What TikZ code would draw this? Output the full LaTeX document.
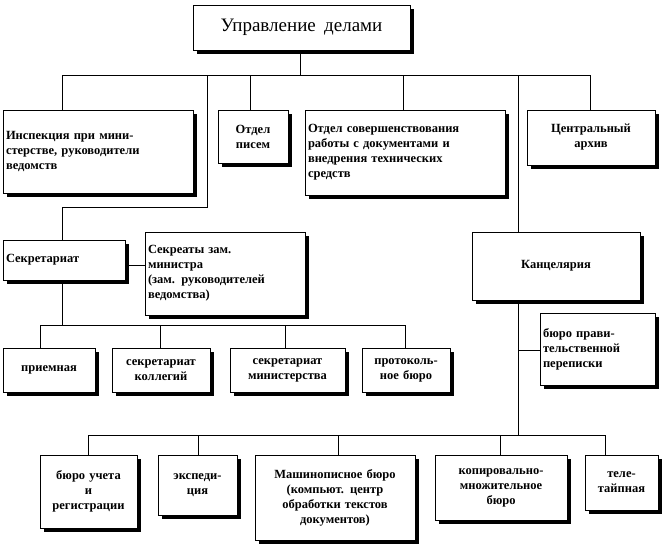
\documentclass[tikz,border=0pt]{standalone}
\usepackage{fontspec}
\setmainfont{Liberation Serif}
\usetikzlibrary{shadows}
\tikzset{
 bx/.style={draw=black,fill=white,line width=0.6pt,inner sep=1pt,font=\bfseries\fontsize{12.5}{15}\selectfont,
   drop shadow={shadow xshift=4pt,shadow yshift=-4pt,fill=black,opacity=1}},
 ln/.style={draw=black,line width=0.6pt}
}
\newcommand{\bx}[7]{%
 \node[bx,minimum width={#4-#2},minimum height={#5-#3},text width={#4-#2-6},align=#7]
   (#1) at ({(#2+#4)/2},{(#3+#5)/2}) {#6};}
\begin{document}
\begin{tikzpicture}[x=1pt,y=-1pt]
\useasboundingbox (0,0) rectangle (666,546);
\coordinate (t0) at (300,75);
\draw[ln] (300,50) -- (t0);
\draw[ln] (62,75) -- (590,75);
\draw[ln] (62,75) -- (62,110);
\draw[ln] (250,75) -- (250,110);
\draw[ln] (403,75) -- (403,110);
\draw[ln] (590,75) -- (590,110);
\draw[ln] (207,75) -- (207,207) -- (62,207) -- (62,240);
\draw[ln] (518,75) -- (518,435);
\draw[ln] (518,350) -- (540,350);
\draw[ln] (125,265) -- (145,265);
\draw[ln] (62,280) -- (62,325);
\draw[ln] (40,325) -- (405,325);
\foreach \x in {40,160,285,405} \draw[ln] (\x,325) -- (\x,348);
\draw[ln] (88,435) -- (605,435);
\foreach \x in {88,198,338,500,605} \draw[ln] (\x,435) -- (\x,455);
\bx{top}{193}{5}{410}{50}{\fontsize{19}{21}\selectfont\mdseries Управление\ \ делами}{center}
\bx{insp}{3}{110}{193}{193}{Инспекция при мини-\\стерстве, руководители\\ведомств}{left}
\bx{pis}{218}{110}{288}{163}{Отдел\\писем}{center}
\bx{sov}{305}{110}{505}{195}{Отдел совершенствования\\работы с документами и\\внедрения технических\\средств}{left}
\bx{arh}{527}{110}{655}{165}{Центральный\\архив}{center}
\bx{sek}{3}{240}{125}{280}{Секретариат}{left}
\bx{zam}{145}{232}{305}{315}{Секреаты зам.\\министра\\(зам. руководителей\\ведомства)}{left}
\bx{kanc}{472}{232}{640}{300}{Канцелярия}{center}
\bx{bpp}{540}{313}{655}{385}{бюро прави-\\тельственной\\переписки}{left}
\bx{pri}{3}{348}{95}{392}{приемная}{center}
\bx{kol}{112}{348}{210}{392}{секретариат\\коллегий}{center}
\bx{min}{230}{348}{345}{392}{секретариат\\министерства}{center}
\bx{prot}{362}{348}{450}{392}{протоколь-\\ное бюро}{center}
\bx{uch}{40}{455}{137}{528}{бюро учета\\и\\регистрации}{center}
\bx{eksp}{158}{455}{237}{515}{экспеди-\\ция}{center}
\bx{mash}{255}{455}{415}{540}{Машинописное бюро\\(компьют. центр\\обработки текстов\\документов)}{center}
\bx{kop}{435}{455}{567}{520}{копировально-\\множительное\\бюро}{center}
\bx{tel}{585}{455}{658}{510}{теле-\\тайпная}{center}
\end{tikzpicture}
\end{document}
